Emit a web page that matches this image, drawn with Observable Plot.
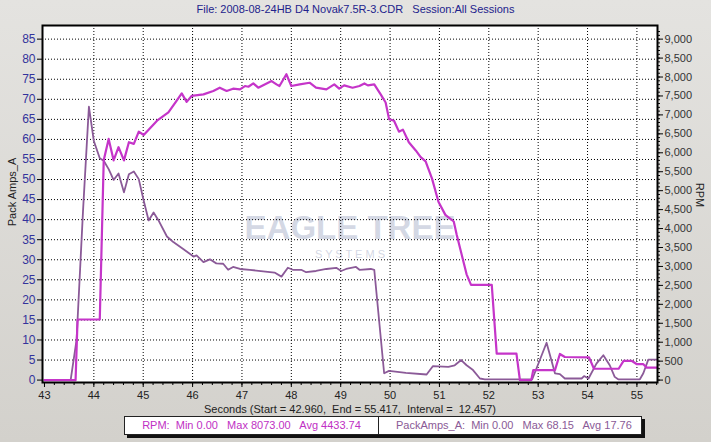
<!DOCTYPE html>
<html>
<head>
<meta charset="utf-8">
<script src="https://cdn.jsdelivr.net/npm/d3@7"></script>
<script src="https://cdn.jsdelivr.net/npm/@observablehq/plot@0.6"></script>
<style>
  html, body { margin: 0; padding: 0; }
  body { width: 711px; height: 442px; overflow: hidden;
         background: linear-gradient(to bottom, #e4e3e0, #d3d1cc);
         font-family: "Liberation Sans", Arial, sans-serif; }
  #wrap { position: relative; width: 711px; height: 442px; }
  #chart { position: absolute; left: 0; top: 0; }
  .lbl { position: absolute; font-size: 11px; white-space: pre; }
  #title { left: 0; top: 3px; width: 711px; text-align: center; color: #22228c; }
  #ylab { left: 12px; top: 192px; transform: translate(-50%, -50%) rotate(-90deg); color: #222; }
  #rlab { left: 700px; top: 195px; transform: translate(-50%, -50%) rotate(90deg); color: #222; }
  #xlab { left: 350px; top: 403px; transform: translateX(-50%); color: #222; }
  #legend { position: absolute; left: 124px; top: 416px; width: 516px; height: 17px;
            background: #fff; border: 1px solid #222; box-shadow: 3px 3px 0 #111; display: flex; }
  #legend div { font-size: 11px; line-height: 17px; white-space: pre; }
  #leg1 { width: 253px; border-right: 1px solid #222; text-align: center; color: #c030c4; }
  #leg2 { flex: 1; padding-left: 17px; color: #8a5a96; }
</style>
</head>
<body>
<div id="wrap">
  <div id="chart"></div>
  <div class="lbl" id="title"></div>
  <div class="lbl" id="ylab"></div>
  <div class="lbl" id="rlab"></div>
  <div class="lbl" id="xlab"></div>
  <div id="legend"><div id="leg1"></div><div id="leg2"></div></div>
</div>
<script>
// ---- texts ----
const titleText = "File: 2008-08-24HB D4 Novak7.5R-3.CDR   Session:All Sessions";
const yLabel = "Pack Amps_A";
const rLabel = "RPM";
const xLabel = "Seconds (Start = 42.960,  End = 55.417,  Interval =  12.457)";
const rpmStats = "RPM:  Min 0.00   Max 8073.00   Avg 4433.74";
const ampStats = "PackAmps_A:  Min 0.00   Max 68.15   Avg 17.76";
const watermark1 = "EAGLE TREE";
const watermark2 = "S Y S T E M S";

// ---- axis ticks ----
const xDomain = [42.96, 55.417];
const xTicks = [43, 44, 45, 46, 47, 48, 49, 50, 51, 52, 53, 54, 55];
const ampTicks = [0, 5, 10, 15, 20, 25, 30, 35, 40, 45, 50, 55, 60, 65, 70, 75, 80, 85];
const rpmTicks = [0, 500, 1000, 1500, 2000, 2500, 3000, 3500, 4000, 4500, 5000, 5500, 6000, 6500, 7000, 7500, 8000, 8500, 9000];

// ---- PackAmps_A series ----
const ampT = [43.00, 43.53, 43.65, 43.78, 43.90, 44.00, 44.12, 44.20, 44.30, 44.40, 44.50, 44.61, 44.71, 44.81, 44.91,
  45.01, 45.11, 45.21, 45.31, 45.48, 45.61, 45.81, 46.02, 46.08, 46.22, 46.35, 46.48, 46.62, 46.72, 46.82, 46.96,
  47.16, 47.43, 47.66, 47.80, 47.93, 48.03, 48.20, 48.30, 48.50, 48.71, 48.91, 49.01, 49.11, 49.31, 49.38, 49.61,
  49.68, 49.88, 49.98, 50.32, 50.74, 50.87, 51.18, 51.31, 51.44, 51.55, 51.68, 51.82, 51.92, 52.88, 53.17, 53.34,
  53.44, 53.54, 53.88, 53.93, 54.02, 54.18, 54.32, 54.45, 54.55, 54.62, 55.06, 55.13, 55.23, 55.417];
const ampV = [0, 0, 10, 42, 68.15, 59.6, 55.3, 54.7, 52.6, 49.9, 51.5, 46.8, 51.3, 52.0, 50.1,
  44.7, 39.8, 41.8, 39.8, 35.8, 34.4, 32.7, 30.8, 31.1, 29.4, 30.1, 29.1, 29.0, 27.5, 28.2, 27.7,
  27.5, 27.1, 26.8, 25.8, 28.0, 27.5, 27.5, 26.9, 27.2, 27.7, 28.0, 27.2, 27.7, 28.2, 27.5, 27.7,
  27.5, 1.7, 2.3, 1.8, 1.4, 3.5, 3.3, 3.7, 5.0, 3.7, 2.5, 0.4, 0.2, 0.2, 9.3, 1.7,
  1.5, 0.4, 0.4, 1.0, 0.4, 4.1, 6.2, 3.7, 0.8, 0.2, 0.2, 1.7, 5.1, 5.1];

// ---- RPM series ----
const rpmT = [43.00, 43.63, 43.67, 44.12, 44.20, 44.30, 44.40, 44.50, 44.61, 44.71, 44.81, 44.91, 45.01, 45.28, 45.51,
  45.65, 45.78, 45.88, 45.98, 46.22, 46.42, 46.55, 46.69, 46.82, 46.96, 47.06, 47.13, 47.23, 47.33, 47.46, 47.60,
  47.70, 47.76, 47.90, 48.00, 48.17, 48.37, 48.50, 48.71, 48.87, 48.97, 49.07, 49.24, 49.38, 49.48, 49.55, 49.68,
  49.81, 49.91, 49.98, 50.08, 50.18, 50.26, 50.38, 50.52, 50.62, 50.72, 50.85, 50.98, 51.12, 51.29, 51.35, 51.45,
  51.55, 51.64, 52.06, 52.16, 52.56, 52.63, 52.86, 52.90, 53.34, 53.44, 53.54, 54.03, 54.13, 54.63, 54.73, 54.90,
  55.00, 55.13, 55.20, 55.417];
const rpmV = [0, 0, 1600, 1600, 5800, 6366, 5800, 6148, 5800, 6279, 6235, 6558, 6470, 6847, 7064,
  7326, 7569, 7344, 7501, 7543, 7632, 7718, 7632, 7692, 7674, 7762, 7744, 7831, 7718, 7805, 7893,
  7805, 7762, 8073, 7762, 7805, 7849, 7718, 7674, 7805, 7692, 7780, 7718, 7762, 7831, 7780, 7805,
  7543, 7326, 6889, 6847, 6558, 6611, 6279, 6062, 5887, 5774, 5319, 4709, 4361, 4186, 3838, 3315,
  2791, 2512, 2512, 699, 699, 0, 0, 262, 262, 690, 610, 600, 300, 300, 505, 505,
  419, 419, 330, 330];

const RPM_TO_AMP = 85 / 9000;
const amps = ampT.map((t, i) => ({t, v: ampV[i]}));
const rpm = rpmT.map((t, i) => ({t, v: rpmV[i]}));
const minorX = d3.range(43, 55.42, 0.2).map(d => +d.toFixed(2));
const minorR = d3.range(0, 9300, 100).map(r => r * RPM_TO_AMP);
const fmt = d3.format(",");

document.getElementById("title").textContent = titleText;
document.getElementById("ylab").textContent = yLabel;
document.getElementById("rlab").textContent = rLabel;
document.getElementById("xlab").textContent = xLabel;
document.getElementById("leg1").textContent = rpmStats;
document.getElementById("leg2").textContent = ampStats;

const dotted = {stroke: "#000", strokeOpacity: 1, strokeWidth: 1, strokeDasharray: "1,2"};

const chart = Plot.plot({
  width: 711,
  height: 442,
  marginTop: 25,
  marginBottom: 60,
  marginLeft: 42,
  marginRight: 54,
  style: {background: "transparent", fontFamily: "'Liberation Sans', Arial, sans-serif", fontSize: "11px", overflow: "visible"},
  x: {domain: xDomain},
  y: {domain: [-0.6, 88.4]},
  marks: [
    Plot.frame({fill: "#fff", stroke: null}),
    Plot.text([watermark1], {frameAnchor: "middle", dy: 24, fontSize: 33, fontWeight: "bold", fill: "#c9cedd", fillOpacity: 0.8}),
    Plot.text([watermark2], {frameAnchor: "middle", dy: 50, fontSize: 11, fill: "#c9cedd", fillOpacity: 0.8}),
    Plot.gridX(xTicks.slice(1), dotted),
    Plot.gridY(ampTicks.slice(1), dotted),
    Plot.line(amps, {x: "t", y: "v", stroke: "#8b5a98", strokeWidth: 1.8}),
    Plot.line(rpm, {x: "t", y: d => d.v * RPM_TO_AMP, stroke: "#c535c9", strokeWidth: 2.2}),
    Plot.frame({stroke: "#000", strokeWidth: 2}),
    Plot.axisX(xTicks, {anchor: "bottom", tickSize: 5, tickPadding: 4, label: null, stroke: "#000", fill: "#222"}),
    Plot.axisX(minorX, {anchor: "bottom", tickSize: 3, tickFormat: () => "", label: null, stroke: "#000"}),
    Plot.axisY(ampTicks, {anchor: "left", tickSize: 5, tickPadding: 2, label: null, stroke: "#000", fill: "#33339c", fontSize: 12}),
    Plot.axisY(rpmTicks.map(r => r * RPM_TO_AMP), {anchor: "right", tickSize: 5, tickPadding: 2, label: null,
      tickFormat: d => fmt(Math.round(d / RPM_TO_AMP)), stroke: "#000", fill: "#333"}),
    Plot.axisY(minorR, {anchor: "right", tickSize: 2, tickFormat: () => "", label: null, stroke: "#000"})
  ]
});
document.getElementById("chart").appendChild(chart);
</script>
</body>
</html>
